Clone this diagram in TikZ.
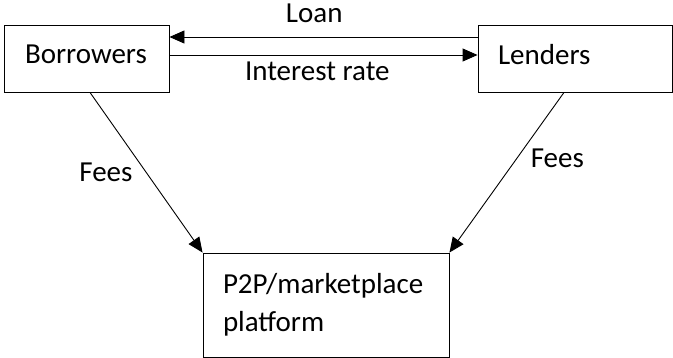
\documentclass[tikz,border=0pt]{standalone}
\usepackage{fontspec}
\setmainfont{Carlito}
\usepackage{tikz}
\usetikzlibrary{arrows.meta,positioning}

\tikzset{
  party/.style={draw, rectangle, minimum height=67pt, align=left, inner ysep=0pt, text depth=9pt},
  hub/.style={draw, rectangle, minimum height=104pt, align=left, inner ysep=0pt},
}

\begin{document}
\begin{tikzpicture}[>={Triangle[length=15pt,width=13pt]}, x=1pt, y=-1pt, line width=0.9pt, font=\fontsize{29}{38}\selectfont]
    % Fix the page size
    \useasboundingbox (0,0) rectangle (673,358);

    % Draw the three parties
    \node[party, text width=123pt, inner xsep=21pt] (borrow) at (86.5,58.5) {Borrowers};
    \node[party, text width=154pt, inner xsep=20pt] (lend) at (575,58.5) {Lenders};
    \node[hub, text width=206pt, inner xsep=20pt] (plat) at (326,305) {P2P/marketplace\\platform};

    % Draw money flows between borrowers and lenders
    \draw[->] ([yshift=21.5pt]lend.west) -- ([yshift=21.5pt]borrow.east) node[pos=0.53, above=11pt] (loan) {Loan};
    \draw[->] ([yshift=3.5pt]borrow.east) -- ([yshift=3.5pt]lend.west) node[pos=0.48, below=3.5pt] (rate) {Interest rate};

    % Draw fees paid to the platform
    \draw[->] ([xshift=3.5pt]borrow.south) -- (plat.north west) node[pos=0.5, left=10pt] (feeB) {Fees};
    \draw[->] ([xshift=-11pt]lend.south) -- (plat.north east) node[pos=0.41, right=10pt] (feeL) {Fees};
\end{tikzpicture}
\end{document}
